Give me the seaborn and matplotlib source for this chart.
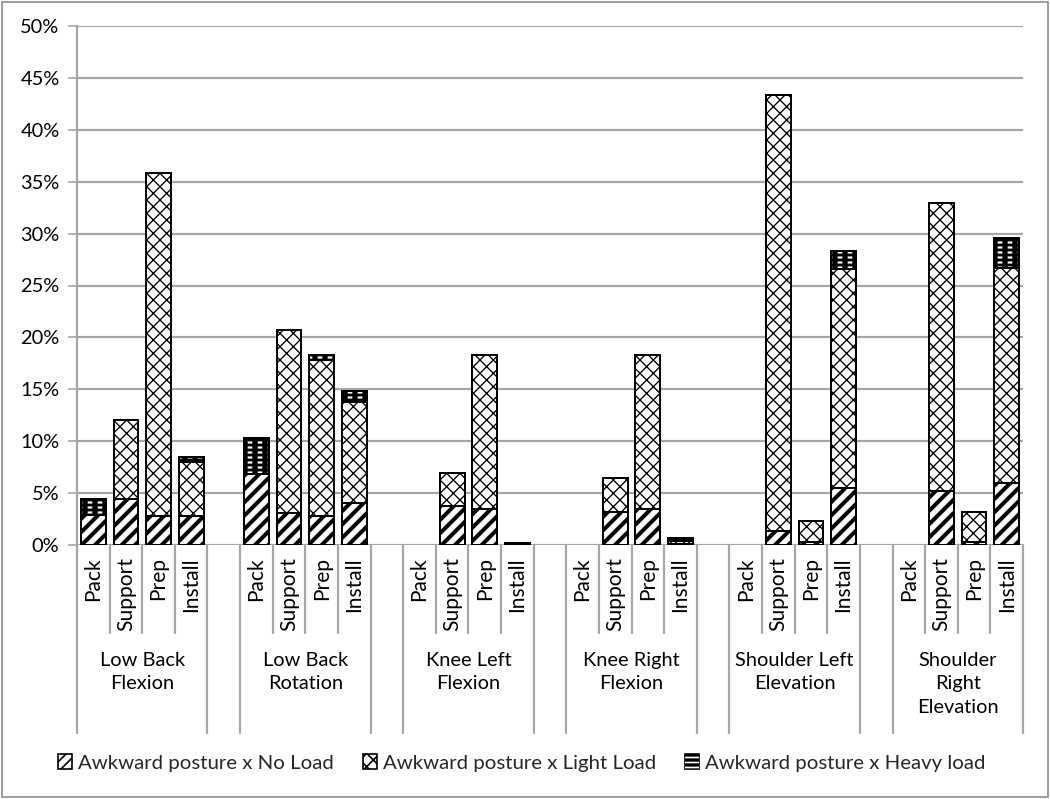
import matplotlib
matplotlib.use("Agg")
import matplotlib.pyplot as plt
import seaborn as sns
import pandas as pd
import numpy as np
from matplotlib.patches import Patch, Rectangle
from matplotlib.lines import Line2D
from matplotlib.legend_handler import HandlerTuple

# ---------------- data ----------------
groups = ["Low Back\nFlexion", "Low Back\nRotation", "Knee Left\nFlexion",
          "Knee Right\nFlexion", "Shoulder Left\nElevation", "Shoulder\nRight\nElevation"]
tasks = ["Pack", "Support", "Prep", "Install"]
# values in percent, order: group by group, tasks Pack/Support/Prep/Install
no_load = [2.9, 4.4, 2.8, 2.8,
           6.8, 3.05, 2.8, 4.0,
           0.0, 3.8, 3.45, 0.1,
           0.0, 3.15, 3.45, 0.1,
           0.0, 1.35, 0.3, 5.45,
           0.0, 5.25, 0.3, 6.0]
light_load = [0.0, 7.6, 33.0, 5.2,
              0.0, 17.7, 15.0, 9.8,
              0.0, 3.1, 14.85, 0.1,
              0.0, 3.35, 14.85, 0.3,
              0.0, 42.0, 2.0, 21.1,
              0.0, 27.65, 2.85, 20.65]
heavy_load = [1.5, 0.0, 0.0, 0.45,
              3.55, 0.0, 0.5, 1.05,
              0.0, 0.0, 0.0, 0.0,
              0.0, 0.0, 0.0, 0.25,
              0.0, 0.0, 0.0, 1.8,
              0.0, 0.0, 0.0, 2.9]
series_names = ["Awkward posture x No Load", "Awkward posture x Light Load",
                "Awkward posture x Heavy load"]
ytick_values = [0, 5, 10, 15, 20, 25, 30, 35, 40, 45, 50]
ytick_labels = ["0%", "5%", "10%", "15%", "20%", "25%", "30%", "35%", "40%", "45%", "50%"]

# ---------------- style ----------------
sns.set_theme(style="white")
plt.rcParams['font.family'] = ['Lato', 'DejaVu Sans']
FS = 12
FS_ROT = 12.6
FS_LEG = 12.2
GRID = "#a6a6a6"

DPI = 120
fig = plt.figure(figsize=(1050 / DPI, 799 / DPI), dpi=DPI)
fig.patch.set_facecolor("white")
ax = fig.add_axes([77 / 1050, 1 - 545 / 799, (1023 - 77) / 1050, (545 - 26) / 799])

n_groups = len(groups)
n_tasks = len(tasks)
slot_per_group = n_tasks + 1
n_slots = n_groups * slot_per_group - 1
slot_ids = [f"s{i}" for i in range(n_slots)]

rows = []
for g in range(n_groups):
    for t in range(n_tasks):
        i = g * n_tasks + t
        rows.append(dict(slot=slot_ids[g * slot_per_group + t],
                         no=no_load[i], light=light_load[i], heavy=heavy_load[i]))
df = pd.DataFrame(rows)
df["cum1"] = df["no"]
df["cum2"] = df["no"] + df["light"]
df["cum3"] = df["cum2"] + df["heavy"]

BW = 0.76


def layer(col, fc, ec, lw, hatch, hlw):
    d = df[df["cum3"] > 0]
    before = len(ax.patches)
    with plt.rc_context({"hatch.linewidth": hlw}):
        sns.barplot(data=d, x="slot", y=col, order=slot_ids, width=BW,
                    color="white", saturation=1, errorbar=None, ax=ax)
        for p in ax.patches[before:]:
            p.set_facecolor(fc)
            p.set_edgecolor(ec)
            p.set_linewidth(lw)
            p.set_hatch(hatch)
            if hasattr(p, "set_hatch_linewidth"):
                p.set_hatch_linewidth(hlw)


# heavy load (top segment): black with short white dashes
layer("cum3", "black", "black", 1.2, None, 1.0)
layer("cum3", "none", "white", 0, "----", 1.3)
layer("cum3", "none", "black", 1.2, "||", 3.2)
# light load: dotted crosshatch
layer("cum2", "white", "black", 1.2, "xxx", 0.8)
# no load: thick diagonal stripes
layer("cum1", "white", "black", 1.2, "///", 2.4)

# ---------------- axes ----------------
ax.set_xlim(-0.5, n_slots - 0.5)
ax.set_ylim(0, 50)
ax.set_yticks(ytick_values)
ax.set_yticklabels(ytick_labels, fontsize=FS, color="black")
ax.yaxis.grid(True, color=GRID, linewidth=1.3)
ax.set_axisbelow(True)
ax.tick_params(axis="y", which="major", left=True, length=5.5, width=1.0, color=GRID, pad=5)
ax.tick_params(axis="x", bottom=False, labelbottom=False)
ax.set_xlabel("")
ax.set_ylabel("")
for s in ["top", "right", "bottom"]:
    ax.spines[s].set_visible(False)
ax.spines["left"].set_color(GRID)
ax.spines["left"].set_linewidth(1.3)

# multi-level category axis
ax_h = 545 - 26
short_y = -(633 - 545) / ax_h
full_y = -(733 - 545) / ax_h
trans = ax.get_xaxis_transform()
for g in range(n_groups):
    start = g * slot_per_group
    for k in range(n_tasks + 1):
        xb = start + k - 0.5
        ybot = full_y if k in (0, n_tasks) else short_y
        ax.add_line(Line2D([xb, xb], [0, ybot], transform=trans, color=GRID,
                           lw=1.3, clip_on=False))
    for t in range(n_tasks):
        ax.text(start + t, -12 / ax_h, tasks[t], transform=trans, rotation=90,
                ha="center", va="top", fontsize=FS_ROT, color="black")
    ax.text(start + (n_tasks - 1) / 2, -(652 - 545) / ax_h, groups[g], transform=trans,
            ha="center", va="top", fontsize=FS, color="black", linespacing=1.45)

# legend
h_no = Patch(facecolor="white", edgecolor="black", hatch="////", linewidth=1.0)
h_light = Patch(facecolor="white", edgecolor="black", hatch="xxx", linewidth=1.0)
h_heavy = (Patch(facecolor="black", edgecolor="black", linewidth=1.0),
           Patch(facecolor="none", edgecolor="white", hatch="----", linewidth=0))
fig.legend([h_no, h_light, h_heavy], series_names, loc="center",
           bbox_to_anchor=(0.497, 1 - 763 / 799), ncol=3, frameon=False,
           fontsize=FS_LEG, handlelength=0.7, handleheight=0.7, handletextpad=0.3,
           columnspacing=1.4, handler_map={tuple: HandlerTuple(ndivide=1)})

# outer border
fig.add_artist(Rectangle((0.002, 0.002), 0.996, 0.996, transform=fig.transFigure,
                         fill=False, edgecolor="#8c8c8c", linewidth=1.0))

fig.savefig("out.png", dpi=DPI, facecolor="white")
